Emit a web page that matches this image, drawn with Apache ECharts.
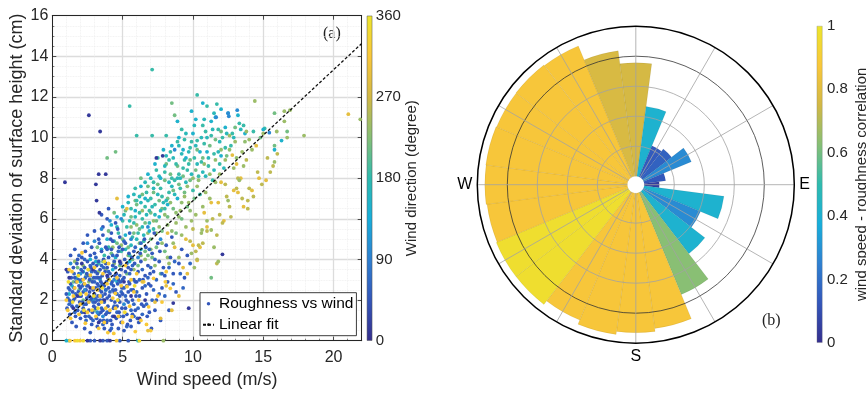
<!DOCTYPE html>
<html><head><meta charset="utf-8">
<script src="https://cdn.jsdelivr.net/npm/echarts/dist/echarts.min.js"></script>
<style>html,body{margin:0;padding:0;background:#fff}#c{width:866px;height:394px}</style>
</head><body><div id="c"></div>
<script>
// ---------- DATA ----------
const speedTicks = [0, 5, 10, 15, 20];
const heightTicks = [0, 2, 4, 6, 8, 10, 12, 14, 16];
const fitLine = [[0, 0.44], [22, 14.63]];

// scatter groups: [wind speed, std of surface height]; each group has its wind direction
const dirNavy = 12;
const ptsNavy = [[0.9,7.8],[2.6,11.1],[3.4,10.3],[3.1,7.7],[3.15,6.9],[3.3,8.2],[3.8,8.2],[3.35,6.3],[12.1,4.25],[9.7,1.6],[8.6,1.85],[7.85,9.1],[1.2,3.1],[1.8,2.2],[2.3,1.4],[2.9,3.5],[3.7,2.0],[4.4,1.2],[5.1,2.9],[2.1,3.8],[3.3,0.9],[4.8,3.9],[1.5,1.6],[2.7,2.6],[6.2,1.1],[5.6,2.2],[3.9,3.2],[2.5,0.0],[3.4,0.0],[4.1,0.0],[7.4,9.0],[1.0,3.5],[6.6,2.0]];
const dirBlue = 48;
const ptsBlue = [[1.0,2.3],[1.1,3.4],[1.2,2.0],[1.3,2.8],[1.4,1.7],[1.05,1.6],[1.35,3.1],[1.45,2.4],[1.15,2.6],[1.25,1.3],[1.5,3.6],[1.4,0.9],
[1.6,2.1],[1.7,2.9],[1.8,1.5],[1.9,3.3],[1.55,2.6],[1.65,1.2],[1.75,3.8],[1.85,2.4],[1.95,1.9],[1.6,3.1],[1.7,0.7],[1.9,2.7],[1.8,4.0],[2.0,1.1],
[2.05,2.2],[2.1,3.0],[2.2,1.6],[2.3,3.6],[2.4,2.5],[2.15,1.9],[2.25,2.8],[2.35,1.2],[2.45,3.3],[2.1,4.1],[2.3,0.6],[2.2,2.4],[2.4,1.8],[2.5,3.9],[2.15,3.4],[2.45,2.1],[2.35,4.4],[2.0,2.6],
[2.55,2.7],[2.6,1.5],[2.7,3.2],[2.8,2.1],[2.9,3.8],[2.65,2.4],[2.75,1.1],[2.85,2.9],[2.95,1.7],[2.6,3.5],[2.7,4.2],[2.8,0.8],[2.9,2.5],[2.55,1.9],[2.65,3.0],[2.75,3.6],[2.85,1.4],[2.95,3.1],[2.6,2.2],[2.8,4.6],[2.7,0.4],
[3.0,2.3],[3.05,3.4],[3.1,1.6],[3.2,2.8],[3.3,3.9],[3.4,2.0],[3.15,1.1],[3.25,3.1],[3.35,2.5],[3.45,1.4],[3.0,4.3],[3.1,2.6],[3.2,0.7],[3.3,1.8],[3.4,3.5],[3.45,2.9],[3.05,1.9],[3.15,3.7],[3.25,2.2],[3.35,4.8],[3.4,1.0],[3.2,3.3],
[3.5,2.4],[3.55,3.2],[3.6,1.5],[3.7,2.7],[3.8,3.8],[3.9,2.1],[3.65,1.0],[3.75,3.4],[3.85,2.9],[3.95,1.7],[3.5,4.4],[3.6,2.0],[3.7,0.6],[3.8,1.3],[3.9,3.6],[3.55,2.8],[3.65,4.0],[3.75,2.3],[3.85,0.9],[3.95,3.1],[3.6,5.2],[3.8,4.6],
[4.0,2.6],[4.05,1.4],[4.1,3.3],[4.2,2.0],[4.3,3.7],[4.4,2.4],[4.15,1.0],[4.25,2.9],[4.35,1.6],[4.45,3.2],[4.0,4.1],[4.1,0.5],[4.2,4.5],[4.3,1.2],[4.4,3.9],[4.05,2.2],[4.25,0.8],[4.35,2.7],[4.45,1.9],[4.15,5.0],[4.3,4.9],
[4.5,2.5],[4.6,1.7],[4.7,3.0],[4.8,2.2],[4.9,3.5],[4.55,1.1],[4.65,2.8],[4.75,1.4],[4.85,3.8],[4.95,2.6],[4.6,4.2],[4.7,0.6],[4.8,1.9],[4.9,0.9],[4.55,3.3],[4.75,4.6],[4.85,2.9],[4.65,5.5],[4.95,1.6],
[5.0,2.3],[5.1,3.1],[5.2,1.6],[5.3,2.7],[5.4,3.6],[5.05,1.2],[5.15,4.0],[5.25,2.0],[5.35,0.8],[5.45,2.9],[5.0,4.5],[5.2,3.4],[5.3,1.3],[5.4,2.4],[5.1,0.5],[5.45,4.3],
[5.5,2.8],[5.6,3.5],[5.7,2.0],[5.8,3.0],[5.9,1.5],[5.55,1.0],[5.65,4.1],[5.75,2.5],[5.85,3.8],[5.95,2.2],[5.6,0.7],[5.8,4.4],[5.7,1.3],
[6.0,2.9],[6.1,3.4],[6.2,2.2],[6.3,3.9],[6.4,2.6],[6.5,1.7],[6.6,3.2],[6.7,2.3],[6.8,3.7],[6.9,1.4],[6.05,1.1],[6.25,4.3],[6.45,3.0],[6.65,4.6],[6.85,2.8],[6.15,0.9],[6.35,1.8],[6.55,5.0],[6.75,1.2],[6.95,3.3],
[7.0,2.7],[7.2,3.4],[7.4,2.0],[7.6,3.9],[7.8,2.6],[8.0,3.2],[7.1,4.3],[7.3,1.5],[7.5,4.8],[7.7,1.0],[7.9,3.6],[8.2,2.9],[8.4,4.1],[8.6,3.3],[8.8,2.4],[9.0,3.8],[7.25,5.3],[7.65,4.4],[8.1,4.7],[8.5,5.1],[9.2,4.5],[9.4,3.1],[9.6,4.2],[8.3,1.5],[7.05,0.6],
[3.3,5.0],[3.6,5.6],[3.9,6.0],[4.2,5.3],[4.5,5.8],[3.0,5.4],[4.8,5.1],[5.2,4.8],[3.5,6.2],[4.0,6.5],[2.5,5.2],[2.2,4.8],[1.3,4.2],[1.6,4.5],
[2.7,0.0],[3.0,0.0],[3.6,0.0],[3.9,0.0],[4.8,0.0],[5.4,0.0]];
const dirBlue2 = 62;
const ptsBlue2 = [[1.1,2.1],[1.25,2.5],[1.35,1.9],[1.55,3.3],[1.65,2.3],[1.75,1.7],[1.85,3.0],[1.95,2.2],[2.05,3.5],[2.15,2.7],[2.25,1.8],[2.35,3.1],[2.45,2.7],[2.55,3.2],[2.6,1.2],[2.7,2.0],[2.8,3.4],[2.9,1.9],[3.0,2.9],[3.05,2.1],[3.1,3.1],[3.2,2.0],[3.3,2.7],[3.4,3.1],[3.5,1.6],[3.55,2.2],[3.65,3.6],[3.7,1.9],[3.8,2.5],[3.9,1.4],[4.0,3.4],[4.1,2.4],[4.2,2.8],[4.3,2.5],[4.4,1.7],[4.5,3.6],[4.6,2.3],[4.7,2.0],[4.8,3.2],[4.9,2.4],[5.0,3.0],[5.1,2.6],[5.2,2.2],[5.3,3.8],[5.4,1.9],[5.5,3.3],[5.6,2.5],[5.7,3.7],[5.8,1.8],[5.9,2.9],[6.0,2.4],[6.2,3.0],[6.4,3.5],[6.6,2.7],[6.8,3.1],[7.0,3.6],[7.2,2.5],[7.4,3.0],[7.6,2.3],[7.8,3.3],[8.0,2.2],[8.3,3.6],[8.7,3.9],[9.1,3.3],[7.3,4.0],[6.9,4.5],[6.3,4.8],[5.9,4.6],[5.5,5.3],[5.1,4.9],[4.7,4.4],[4.3,4.2],[3.9,4.5],[3.5,3.7],[3.1,4.1],[2.7,3.7],[2.3,4.0],[1.9,4.2],[1.5,2.0],[1.2,1.8],[2.4,1.0],[3.6,0.8],[4.2,0.6],[4.8,1.2],[5.3,0.7],[5.8,1.2],[6.4,1.3],[2.1,1.4],[1.6,1.4],[2.9,1.0],[3.3,1.3],[3.9,1.0],[4.6,1.4],[5.6,1.5],[6.1,1.6],[6.7,1.8],[7.1,2.0],[8.6,2.8],[9.3,2.6],[9.8,3.8]];
const dirMidBlue = 100;
const ptsMidBlue = [[15.43,10.24],[12.55,11.05],[13.15,11.35],[11.65,11.0],[8.7,9.4],[5.6,5.0],[4.1,5.9],[3.5,5.5],[3.0,4.9],[2.5,4.8],[4.9,6.0],[6.1,4.1],[3.6,1.2],[2.3,2.5],[5.1,1.8],[4.4,3.0],[1.3,3.8],[12.5,11.2],[6.8,5.6],[7.7,5.0],[2.0,3.3],[3.2,1.4]];
const dirCyan = 150;
const ptsCyan = [[8.9,10.8],[10.2,10.9],[11.6,11.0],[12.5,11.2],[13.2,11.1],[9.9,11.3],[10.7,11.7],[11.3,10.8],[12.3,10.5],[13.7,10.2],[9.3,9.4],[9.0,10.0],[10.5,9.3],[8.5,9.6],[7.9,9.4],[7.3,8.7],[6.8,8.2],[6.3,7.6],[5.9,6.4],[5.4,7.1],[5.0,6.6],[4.6,6.1],[4.2,5.7],[3.9,5.0],[3.5,4.5],[4.3,3.5],[3.1,3.9],[2.7,4.0],[2.2,3.4],[1.7,3.1],[1.2,2.3],[2.9,2.0],[3.8,2.5],[4.6,2.9],[5.5,3.9],[6.3,4.5],[6.9,5.4],[7.6,6.1],[8.2,6.7],[8.9,7.0],[9.5,9.0],[10.0,10.2],[11.0,9.3],[12.0,9.1],[15.0,10.4],[12.0,11.4],[7.7,8.0],[6.6,7.0],[5.2,5.2],[4.5,4.1],[3.4,3.0],[2.0,2.9],[1.4,2.7],[15.8,9.4],[16.3,9.85],[1.0,0.0],[6.1,0.0]];
const dirTeal = 185;
const ptsTeal = [[7.1,13.35],[5.5,11.55],[6.0,10.1],[7.1,10.1],[10.3,12.1],[11.0,11.55],[11.7,11.65],[8.1,10.1],[8.9,9.8],[9.4,9.9],[9.9,9.8],[10.3,9.85],[10.9,10.3],[11.3,10.1],[11.8,10.4],[12.1,10.0],[13.3,10.7],[13.6,10.6],[15.1,10.45],[8.3,8.9],[8.8,8.7],[9.3,8.5],[9.7,8.7],[10.1,9.0],[10.6,8.8],[11.1,8.6],[11.5,9.2],[11.9,8.7],[12.3,9.5],[8.0,8.3],[8.5,8.0],[9.0,8.2],[9.6,8.4],[10.4,8.1],[7.4,8.4],[7.7,7.5],[7.0,7.0],[6.6,6.6],[6.2,6.3],[5.8,5.8],[6.4,6.0],[6.9,6.4],[7.3,6.7],[7.8,7.1],[8.3,7.3],[8.7,7.9],[9.1,7.5],[5.3,5.6],[5.7,5.1],[6.1,5.3],[5.0,5.9],[4.7,5.3],[4.4,4.9],[4.9,4.4],[5.5,4.2],[6.5,4.9],[7.2,5.5],[4.0,4.6],[3.7,4.2],[3.3,3.8],[5.9,7.5],[6.7,7.3],[7.5,9.0],[9.2,10.4],[10.7,10.6],[12.8,10.2],[14.3,10.3],[12.7,9.6],[11.4,7.9],[10.0,7.4],[10.5,7.2],[8.4,9.3],[9.8,9.5],[10.8,9.7],[7.2,7.8],[6.0,6.9],[5.6,6.5],[8.0,6.5],[9.4,8.9]];
const dirTeal2 = 170;
const ptsTeal2 = [[5.1,6.2],[5.5,5.9],[5.9,6.1],[6.3,6.8],[6.7,6.2],[7.1,6.6],[7.5,7.2],[7.9,6.8],[8.3,7.8],[8.7,7.2],[9.1,8.0],[9.5,7.8],[9.9,8.2],[10.3,8.7],[10.7,8.3],[11.1,9.0],[11.5,8.4],[8.1,9.1],[8.6,9.0],[9.2,9.2],[9.7,9.3],[10.2,9.6],[10.6,10.0],[11.0,10.0],[11.4,10.4],[11.9,9.8],[12.4,10.2],[12.9,10.0],[13.4,10.4],[6.5,5.2],[6.9,5.8],[7.3,6.2],[7.7,6.4],[8.1,6.9],[8.5,7.6],[8.9,8.0],[4.6,5.6],[5.2,4.5],[5.6,4.7],[6.0,5.0],[6.4,5.6],[6.8,6.9],[7.2,7.5],[7.6,8.1],[8.0,8.6],[5.4,6.8],[5.8,7.2],[6.2,7.1],[6.6,7.8],[7.0,8.0],[9.5,10.2],[10.1,10.6],[10.8,10.9],[11.5,11.2],[9.0,9.6],[11.8,9.3],[12.2,8.5],[10.9,8.1]];
const dirGreen = 215;
const ptsGreen = [[4.5,9.3],[3.9,9.0],[5.2,6.4],[5.6,6.1],[6.0,6.7],[6.4,7.2],[6.8,7.6],[7.2,7.3],[7.6,6.9],[8.0,7.9],[8.4,8.2],[8.9,8.6],[9.3,8.1],[9.8,8.9],[10.3,9.4],[10.7,9.0],[11.2,9.6],[11.6,9.9],[12.0,10.3],[6.2,5.5],[6.6,5.8],[7.0,6.3],[7.4,5.9],[7.8,6.5],[8.2,7.0],[8.6,7.4],[9.0,7.7],[9.4,7.3],[9.8,7.9],[10.2,8.4],[5.0,5.0],[5.4,4.6],[5.8,5.3],[6.2,4.8],[6.6,4.4],[7.0,5.0],[7.4,4.6],[7.8,5.4],[8.2,6.1],[8.6,6.5],[4.2,4.3],[4.6,4.8],[3.6,3.9],[4.0,5.4],[3.2,4.6],[2.8,3.0],[2.4,3.2],[1.9,2.5],[1.5,2.9],[3.5,2.7],[5.3,3.3],[6.1,3.7],[7.1,4.1],[8.0,4.4],[8.8,5.3],[9.2,6.0],[5.9,6.9],[6.3,8.0],[7.5,7.7],[8.1,8.7],[8.5,11.7],[8.7,11.1],[12.4,9.1],[13.0,10.5],[14.8,10.0],[15.8,9.6],[16.7,10.3],[15.8,11.2],[6.8,4.2],[7.7,3.3],[4.8,3.7],[2.2,2.0],[3.0,1.5],[1.8,3.6],[11.3,3.1],[9.6,6.6],[10.1,7.0],[5.7,4.0],[4.4,6.3],[1.2,0.0]];
const dirGreen2 = 232;
const ptsGreen2 = [[5.6,5.6],[6.0,5.7],[6.4,6.4],[6.8,5.3],[7.2,5.9],[7.6,5.6],[8.0,6.2],[8.4,6.8],[8.8,6.3],[9.2,6.8],[9.6,7.6],[10.0,8.0],[10.4,7.9],[10.8,8.7],[11.2,8.2],[11.6,8.9],[12.0,9.4],[12.6,9.4],[13.1,9.0],[13.7,9.8],[7.4,5.3],[8.2,5.7],[9.0,6.1],[9.8,6.4],[6.3,4.2],[7.0,4.5],[7.8,4.8],[8.5,5.4],[5.4,4.2],[4.9,4.7],[4.3,4.6],[3.8,3.5],[3.3,3.4],[2.6,2.9],[2.2,3.7],[1.6,3.9],[4.4,3.8],[6.6,4.0],[7.3,3.7],[8.2,4.1],[5.8,3.5]];
const dirYG = 238;
const ptsYG = [[14.4,11.8],[16.5,10.8],[16.9,11.35],[17.9,10.1],[21.9,10.9],[16.7,10.0],[16.5,11.3],[15.8,8.8],[15.96,10.3],[14.0,9.9],[13.5,9.3],[12.9,8.5],[13.6,8.6],[14.2,9.4],[13.0,9.8],[12.3,8.9],[11.6,7.8],[11.2,7.0],[10.7,6.6],[10.2,6.2],[9.9,5.9],[9.5,5.6],[9.2,5.2],[10.6,5.3],[11.0,5.9],[11.3,5.45],[10.65,5.45],[11.5,4.6],[11.8,3.9],[12.5,6.9],[13.3,7.9],[10.3,7.6],[9.7,6.8],[11.9,8.2],[12.6,10.1],[13.8,10.3],[15.0,10.2],[9.1,6.4],[8.8,5.8],[9.4,7.1],[10.9,7.3],[8.6,4.8],[9.9,4.3],[10.1,3.6],[9.0,4.1],[8.3,3.8],[7.9,0.0]];
const dirOlive = 258;
const ptsOlive = [[15.5,8.3],[14.3,7.1],[13.9,6.9],[14.0,7.5],[13.1,7.5],[13.9,6.5],[12.6,6.6],[13.2,8.0],[11.7,5.2],[11.4,6.0],[12.1,5.8],[10.4,4.7],[10.3,4.0],[10.2,4.4],[11.7,3.8],[9.8,4.9],[12.4,7.1],[13.5,7.0],[14.9,7.7],[15.7,8.6],[12.7,6.1],[11.0,5.4],[10.7,4.8],[13.8,8.9],[14.6,8.3],[16.0,9.2],[15.3,9.0],[11.9,6.2],[12.3,7.7],[10.0,5.5]];
const dirOrange = 292;
const ptsOrange = [[6.8,0.5],[7.7,1.1],[8.1,2.7],[8.5,1.5],[7.3,1.9],[9.0,2.2],[8.7,4.6],[9.3,3.6],[10.0,4.7],[10.3,3.95],[9.6,3.3],[10.8,6.3],[11.3,6.8],[11.8,6.8],[12.2,5.9],[12.9,7.4],[13.2,7.3],[12.8,9.14],[13.1,8.7],[13.4,8.0],[14.5,9.6],[14.7,8.0],[15.2,7.9],[11.0,5.6],[10.5,4.6],[13.6,6.6],[14.2,7.4],[12.0,7.8],[8.2,5.3],[9.5,5.0],[21.05,11.15],[5.3,6.5],[4.6,7.0],[6.4,2.9]];
const dirYellow = 318;
const ptsYellow = [[1.0,2.0],[1.2,3.5],[1.4,3.4],[1.3,1.1],[1.5,2.2],[1.76,2.9],[1.9,1.3],[2.11,4.33],[2.0,1.8],[2.2,3.0],[2.35,0.86],[2.4,2.3],[2.5,1.4],[2.7,3.23],[2.82,1.51],[2.9,2.6],[3.0,3.6],[3.1,1.2],[3.3,0.61],[3.2,2.5],[3.5,1.9],[3.6,3.3],[3.7,0.9],[3.9,2.8],[4.0,3.8],[4.1,1.5],[4.37,0.36],[4.3,2.1],[4.48,2.33],[4.6,3.1],[4.7,1.2],[4.9,2.7],[5.0,0.9],[5.2,3.7],[5.31,2.66],[5.5,1.7],[5.67,1.18],[5.8,2.4],[6.0,3.3],[6.14,2.0],[6.3,1.0],[6.5,2.9],[6.85,1.67],[7.0,0.5],[7.2,3.07],[7.5,2.2],[8.04,2.9],[8.39,2.58],[8.1,3.4],[1.6,2.6],[2.6,1.9],[3.4,2.2],[4.5,1.6],[5.6,3.0],[1.1,1.5],[3.8,1.6],[2.3,2.8],[6.7,0.8],[5.9,0.45],[3.95,0.4],[7.8,1.9],[1.26,0.0],[1.61,0.0],[1.97,0.0],[4.57,0.0]];
const dirBright = 345;
const ptsBright = [[1.15,2.9],[1.45,1.9],[1.85,3.2],[2.25,1.5],[2.55,3.5],[2.95,2.2],[3.25,1.6],[3.55,2.6],[4.05,3.0],[4.65,2.0],[5.15,1.4],[5.85,2.7],[1.78,0.0],[2.2,0.0],[6.19,0.0],[2.0,2.3],[3.7,3.9]];

// polar histogram (b): 24 compass bins of 15 degrees
const dirBins = ['0','15','30','45','60','75','90','105','120','135','150','165','180','195','210','225','240','255','270','285','300','315','330','345'];
const binRadius = [3.78,2.35,1.12,1.22,1.72,0.72,0.5,2.68,2.05,2.62,3.68,4.55,4.65,4.75,4.6,4.75,4.75,4.72,4.75,4.76,4.74,4.75,4.72,4.22];
const binCorr = [0.76,0.41,0.14,0.16,0.28,0.13,0.05,0.41,0.28,0.41,0.63,0.87,0.87,0.87,0.87,0.97,0.97,0.87,0.87,0.87,0.87,0.87,0.87,0.77];
const dirBarTicks = [0, 90, 180, 270, 360];
const corrBarTicks = [0, 0.2, 0.4, 0.6, 0.8, 1];

// ---------- BUILD ----------
const parulaStops = ['#352F8E','#3356BA','#2F80D1','#17AEDB','#2FBBAF','#86BF76','#D2B845','#F9C73A','#ECE52C'];
function hex(c){return [parseInt(c.slice(1,3),16),parseInt(c.slice(3,5),16),parseInt(c.slice(5,7),16)];}
function parula(t){t=Math.max(0,Math.min(1,t));const n=parulaStops.length-1;const f=t*n;const i=Math.min(Math.floor(f),n-1);const u=f-i;const a=hex(parulaStops[i]),b=hex(parulaStops[i+1]);return 'rgb('+[0,1,2].map(k=>Math.round(a[k]+(b[k]-a[k])*u)).join(',')+')';}
const gradStops = parulaStops.map((c,i)=>({offset:i/(parulaStops.length-1),color:c}));

const groups = [[ptsGreen2,dirGreen2],[ptsGreen,dirGreen],[ptsTeal2,dirTeal2],[ptsTeal,dirTeal],[ptsCyan,dirCyan],[ptsBlue2,dirBlue2],[ptsBlue,dirBlue],[ptsNavy,dirNavy],[ptsMidBlue,dirMidBlue],[ptsYellow,dirYellow],[ptsBright,dirBright],[ptsOrange,dirOrange],[ptsOlive,dirOlive],[ptsYG,dirYG]];
const scatterData = [];
groups.forEach(([pts,d])=>pts.forEach(p=>scatterData.push([p[0],p[1],d])));

const FF = '"Liberation Sans", Arial, Helvetica, sans-serif';
const AX = '#262626';
const chart = echarts.init(document.getElementById('c'), null, {renderer:'canvas'});

const boxAxis = (extra)=>Object.assign({
  axisLine:{show:true,onZero:false,lineStyle:{color:AX,width:1}},
  axisTick:{show:true,inside:true,length:4,lineStyle:{color:AX,width:0.8}},
  axisLabel:{show:false}, splitLine:{show:false}
}, extra);
const hiddenPolarAxis = {axisLine:{show:false}, axisTick:{show:false}, axisLabel:{show:false}, splitLine:{show:false}};

chart.setOption({
  animation:false,
  backgroundColor:'#fff',
  textStyle:{fontFamily:FF},
  grid:[
    {left:52.3, top:15.7, width:309.4, height:325, outerBoundsMode:'none', containLabel:false},
    {left:366.8, top:15.7, width:5.5, height:325, outerBoundsMode:'none', containLabel:false},
    {left:816.8, top:26, width:5.6, height:316.7, outerBoundsMode:'none', containLabel:false}
  ],
  polar:[
    {center:[635.8,184.7], radius:[8.5,158.5]},
    {center:[635.8,184.7], radius:[8.5,158.5]},
    {center:[635.8,184.7], radius:[0,158.5]}
  ],
  xAxis:[
    {gridIndex:0, type:'value', min:0, max:22, interval:5, position:'bottom',
     axisLine:{show:true,onZero:false,lineStyle:{color:AX,width:1}},
     axisTick:{show:true,inside:true,length:4,lineStyle:{color:AX,width:0.8}},
     minorTick:{show:true,splitNumber:5,length:2,lineStyle:{color:AX,width:0.6}},
     axisLabel:{fontSize:16,color:AX,margin:9,fontFamily:FF,formatter:v=>speedTicks.includes(v)?String(v):''},
     splitLine:{show:true,lineStyle:{color:'#dcdcdc',width:1.3}},
     minorSplitLine:{show:true,lineStyle:{color:'#ececec',width:0.8,type:'dotted'}},
     name:'Wind speed (m/s)', nameLocation:'middle', nameGap:30,
     nameTextStyle:{fontSize:18,color:AX,fontFamily:FF}},
    boxAxis({gridIndex:0, type:'value', min:0, max:22, interval:5, position:'top'}),
    {gridIndex:1, type:'category', data:['c'], show:false},
    {gridIndex:2, type:'category', data:['c'], show:false}
  ],
  yAxis:[
    {gridIndex:0, type:'value', min:0, max:16, interval:2, position:'left',
     axisLine:{show:true,onZero:false,lineStyle:{color:AX,width:1}},
     axisTick:{show:true,inside:true,length:4,lineStyle:{color:AX,width:0.8}},
     minorTick:{show:true,splitNumber:4,length:2,lineStyle:{color:AX,width:0.6}},
     axisLabel:{fontSize:16,color:AX,margin:4,fontFamily:FF,formatter:v=>heightTicks.includes(v)?String(v):''},
     splitLine:{show:true,lineStyle:{color:'#dcdcdc',width:1.3}},
     minorSplitLine:{show:true,lineStyle:{color:'#ececec',width:0.8,type:'dotted'}},
     name:'Standard deviation of surface height (cm)', nameLocation:'middle', nameGap:26, nameRotate:90,
     nameTextStyle:{fontSize:18,color:AX,fontFamily:FF}},
    boxAxis({gridIndex:0, type:'value', min:0, max:16, interval:2, position:'right'}),
    {gridIndex:1, type:'value', min:0, max:360, interval:90, position:'right',
     axisLine:{show:false}, axisTick:{show:false}, splitLine:{show:false},
     axisLabel:{fontSize:15,color:AX,margin:3.5,fontFamily:FF,formatter:v=>dirBarTicks.includes(v)?String(v):''},
     name:'Wind direction (degree)', nameLocation:'middle', nameGap:29, nameRotate:90,
     nameTextStyle:{fontSize:15,color:AX,fontFamily:FF}},
    {gridIndex:2, type:'value', min:0, max:1, interval:0.2, position:'right',
     axisLine:{show:false}, axisTick:{show:false}, splitLine:{show:false},
     axisLabel:{fontSize:15,color:AX,margin:4.5,fontFamily:FF,formatter:v=>{const r=Math.round(v*10)/10;return corrBarTicks.includes(r)?String(r):'';}},
     name:'wind speed - roughness correlation', nameLocation:'middle', nameGap:32, nameRotate:90,
     nameTextStyle:{fontSize:15,color:AX,fontFamily:FF}}
  ],
  angleAxis:[
    Object.assign({polarIndex:0, type:'category', data:dirBins, startAngle:97.5, clockwise:true, boundaryGap:true}, hiddenPolarAxis),
    {polarIndex:1, type:'value', min:0, max:360, interval:30, startAngle:90, clockwise:true, z:10,
     axisLine:{show:false}, axisTick:{show:false},
     axisLabel:{show:true,fontSize:16,color:'#000',margin:5,fontFamily:FF,formatter:v=>({90:'E',180:'S',270:'W'})[v]||''},
     splitLine:{show:true,lineStyle:{color:'#a2a2a2',width:0.8}}},
    {polarIndex:2, type:'value', min:0, max:360, startAngle:90, z:11,
     axisLine:{show:true,lineStyle:{color:'#000',width:1.5}}, axisTick:{show:false}, axisLabel:{show:false}, splitLine:{show:false}}
  ],
  radiusAxis:[
    Object.assign({polarIndex:0, type:'value', min:0, max:5}, hiddenPolarAxis),
    {polarIndex:1, type:'value', min:0, max:5, interval:1, z:10,
     axisLine:{show:false}, axisTick:{show:false}, axisLabel:{show:false},
     splitLine:{show:true,lineStyle:{color:['rgba(0,0,0,0)','#a2a2a2','#a2a2a2','#a2a2a2','#333333','rgba(0,0,0,0)'],width:0.8}}},
    Object.assign({polarIndex:2, type:'value', min:0, max:5}, hiddenPolarAxis)
  ],
  visualMap:[{type:'continuous', show:false, seriesIndex:0, dimension:2, min:0, max:360, inRange:{color:parulaStops}}],
  legend:{
    show:true, orient:'vertical', left:200, top:292.7, backgroundColor:'#fff',
    borderColor:AX, borderWidth:0.9, borderRadius:0, padding:[2,3,2,2], itemGap:3,
    itemWidth:11, itemHeight:3.5, selectedMode:false,
    textStyle:{fontSize:15.5,color:'#000',fontFamily:FF,lineHeight:18},
    data:[
      {name:'Roughness vs wind', icon:'circle', itemStyle:{color:'#3356BA'}},
      {name:'Linear fit'}
    ]
  },
  graphic:[
    {type:'text', left:323, top:26, style:{text:'(a)', fontSize:16, fontFamily:'"Liberation Serif", "Times New Roman", serif', fill:'#222'}},
    {type:'text', left:762, top:313, style:{text:'(b)', fontSize:16, fontFamily:'"Liberation Serif", "Times New Roman", serif', fill:'#222'}}
  ],
  series:[
    {type:'scatter', name:'Roughness vs wind', xAxisIndex:0, yAxisIndex:0, data:scatterData,
     symbol:'circle', symbolSize:3.8, itemStyle:{opacity:1}, silent:true, z:3},
    {type:'line', name:'Linear fit', xAxisIndex:0, yAxisIndex:0, data:fitLine, symbol:'none', silent:true, z:4,
     lineStyle:{color:'#111',width:1.3,type:[3,2]}, itemStyle:{color:'#111'}},
    {type:'bar', name:'cb1', xAxisIndex:2, yAxisIndex:2, data:[360], barWidth:'100%', silent:true, legendHoverLink:false,
     itemStyle:{color:{type:'linear',x:0,y:1,x2:0,y2:0,colorStops:gradStops}, borderColor:'#555', borderWidth:0.5}},
    {type:'bar', name:'cb2', xAxisIndex:3, yAxisIndex:3, data:[1], barWidth:'100%', silent:true, legendHoverLink:false,
     itemStyle:{color:{type:'linear',x:0,y:1,x2:0,y2:0,colorStops:gradStops}, borderColor:'#777', borderWidth:0.3}},
    {type:'bar', name:'rose', coordinateSystem:'polar', polarIndex:0, barCategoryGap:'0%', silent:true, z:2,
     data:binRadius.map((r,i)=>({value:r, itemStyle:{color:parula(binCorr[i]), borderColor:'rgba(0,0,0,0.12)', borderWidth:0.5}}))}
  ]
});
</script></body></html>
